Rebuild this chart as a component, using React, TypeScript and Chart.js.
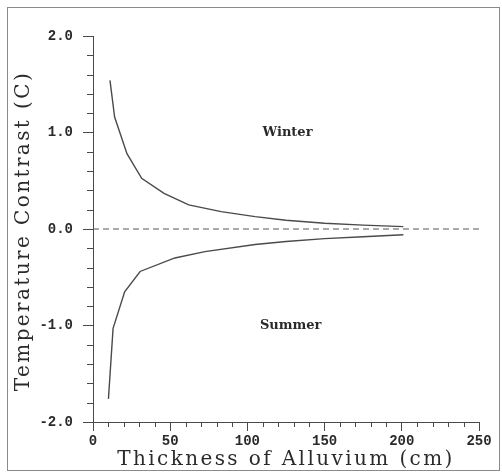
import { useEffect, useRef } from "react";
import { Chart, registerables } from "chart.js";

Chart.register(...registerables);

// ---- data ----
const winterX = [11, 14, 22, 31.5, 46, 62, 83, 105, 125, 150, 175, 201];
const winterY = [1.54, 1.16, 0.78, 0.525, 0.37, 0.25, 0.18, 0.128, 0.09, 0.06, 0.04, 0.025];
const summerX = [10, 13, 20.5, 30.5, 53, 72.5, 105, 125, 150, 175, 201];
const summerY = [-1.76, -1.03, -0.65, -0.44, -0.3, -0.235, -0.16, -0.13, -0.1, -0.08, -0.06];
const zeroLineX = [0, 250];
const zeroLineY = [0, 0];
const xMajorTicks = [0, 50, 100, 150, 200, 250];
const yMajorTicks = [-2, -1, 0, 1, 2];
const xMinorTicks = [10, 20, 30, 40, 60, 70, 80, 90, 110, 120, 130, 140, 160, 170, 180, 190, 210, 220, 230, 240];
const yMinorTicks = [-1.8, -1.6, -1.4, -1.2, -0.8, -0.6, -0.4, -0.2, 0.2, 0.4, 0.6, 0.8, 1.2, 1.4, 1.6, 1.8];
const noteTexts = ["Winter", "Summer"];
const noteX = [126, 128];
const noteY = [1.0, -1.0];
const xTitle = "Thickness of Alluvium (cm)";
const yTitle = "Temperature Contrast (C)";

const INK = "#4a4a4a";
const TEXT = "#2a2a2a";

const extrasPlugin = {
  id: "extras",
  afterDraw(chart: any) {
    const { ctx } = chart;
    const xs = chart.scales.x;
    const ys = chart.scales.y;
    ctx.save();
    ctx.strokeStyle = INK;
    ctx.lineWidth = 1;
    ctx.beginPath();
    xMinorTicks.forEach((v) => {
      const px = Math.round(xs.getPixelForValue(v)) + 0.5;
      ctx.moveTo(px, xs.top);
      ctx.lineTo(px, xs.top + 5);
    });
    yMinorTicks.forEach((v) => {
      const py = Math.round(ys.getPixelForValue(v)) + 0.5;
      ctx.moveTo(ys.right - 6, py);
      ctx.lineTo(ys.right, py);
    });
    ctx.stroke();
    ctx.fillStyle = TEXT;
    ctx.font = "bold 13px 'DejaVu Serif'";
    ctx.textAlign = "center";
    ctx.textBaseline = "middle";
    noteTexts.forEach((t, i) => {
      ctx.fillText(t, xs.getPixelForValue(noteX[i]), ys.getPixelForValue(noteY[i]));
    });
    // axis titles
    const area = chart.chartArea;
    ctx.font = "20px 'DejaVu Serif'";
    (ctx as any).letterSpacing = "2.4px";
    ctx.textBaseline = "middle";
    ctx.textAlign = "center";
    ctx.fillText(xTitle, (area.left + area.right) / 2, xs.bottom - 13);
    ctx.save();
    ctx.translate(ys.left + 24, (area.top + area.bottom) / 2 + 2);
    ctx.rotate(-Math.PI / 2);
    ctx.fillText(yTitle, 0, 0);
    ctx.restore();
    (ctx as any).letterSpacing = "0px";
    ctx.restore();
  },
};

export default function App() {
  const ref = useRef<HTMLCanvasElement | null>(null);
  useEffect(() => {
    if (!ref.current) return;
    const chart = new Chart(ref.current, {
      type: "line",
      data: {
        datasets: [
          {
            label: "Winter",
            data: winterX.map((x, i) => ({ x, y: winterY[i] })),
            borderColor: INK,
            borderWidth: 1.4,
            pointRadius: 0,
            tension: 0,
          },
          {
            label: "Summer",
            data: summerX.map((x, i) => ({ x, y: summerY[i] })),
            borderColor: INK,
            borderWidth: 1.4,
            pointRadius: 0,
            tension: 0,
          },
          {
            label: "zero",
            data: zeroLineX.map((x, i) => ({ x, y: zeroLineY[i] })),
            borderColor: "#555",
            borderWidth: 1,
            borderDash: [6, 4],
            pointRadius: 0,
          },
        ],
      },
      options: {
        responsive: false,
        animation: false,
        layout: { padding: { top: 36, right: 23, left: 0, bottom: 0 } },
        plugins: { legend: { display: false }, tooltip: { enabled: false } },
        scales: {
          x: {
            type: "linear",
            min: 0,
            max: 250,
            afterFit: (s: any) => {
              s.height = 51;
            },
            afterBuildTicks: (s: any) => {
              s.ticks = xMajorTicks.map((v) => ({ value: v }));
            },
            grid: { drawOnChartArea: false, drawTicks: true, tickLength: 9, color: INK, lineWidth: 1 },
            border: { display: true, color: INK, width: 1 },
            ticks: {
              padding: 2,
              color: TEXT,
              font: { family: "'Liberation Mono'", size: 14, weight: "bold" },
              callback: (v: any) => String(v),
            },
            title: { display: false },
          },
          y: {
            type: "linear",
            min: -2,
            max: 2,
            afterFit: (s: any) => {
              s.width = 93;
            },
            afterBuildTicks: (s: any) => {
              s.ticks = yMajorTicks.map((v) => ({ value: v }));
            },
            grid: { drawOnChartArea: false, drawTicks: true, tickLength: 10, color: INK, lineWidth: 1 },
            border: { display: true, color: INK, width: 1 },
            ticks: {
              padding: 10,
              color: TEXT,
              font: { family: "'Liberation Mono'", size: 14, weight: "bold" },
              callback: (v: any) => Number(v).toFixed(1),
            },
            title: { display: false },
          },
        },
      },
      plugins: [extrasPlugin],
    });
    return () => chart.destroy();
  }, []);

  return (
    <div style={{ position: "fixed", left: 0, top: 0, width: 502, height: 473, background: "#fff" }}>
      <div
        style={{
          position: "absolute",
          left: 7,
          top: 7,
          width: 491,
          height: 462,
          border: "1px solid #8a8a8a",
          pointerEvents: "none",
        }}
      />
      <canvas ref={ref} width={502} height={473} style={{ position: "absolute", left: 0, top: 0 }} />
    </div>
  );
}
